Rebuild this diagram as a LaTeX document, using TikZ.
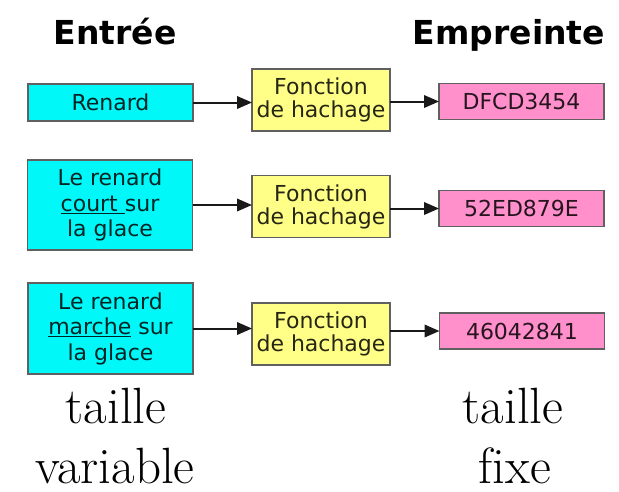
\documentclass[tikz,border=0pt]{standalone}
\usepackage{fontspec}
\usetikzlibrary{arrows.meta}
\newfontfamily\boxfont{DejaVu Sans}
\definecolor{incol}{HTML}{00F8F8}
\definecolor{hashcol}{HTML}{FFFF88}
\definecolor{digcol}{HTML}{FF90CC}
\definecolor{edgecol}{HTML}{606060}
\tikzset{
  every node/.style={inner sep=0pt, outer sep=0pt},
  basebox/.style={draw=edgecol, line width=1.4pt, align=center, text opacity=0.85,
    font=\boxfont\fontsize{22}{25.5}\selectfont},
  inbox/.style={basebox, fill=incol, minimum width=165pt},
  hashbox/.style={basebox, fill=hashcol, minimum width=138pt, minimum height=62pt,
    font=\boxfont\fontsize{22}{23}\selectfont},
  digbox/.style={basebox, fill=digcol, minimum width=165pt, minimum height=36pt},
  link/.style={draw=black!90, line width=2pt, -{Triangle[length=15pt,width=12.5pt]}},
  heading/.style={anchor=base, font=\boxfont\bfseries\fontsize{33}{36}\selectfont},
  caption/.style={anchor=base, font=\fontsize{51}{56}\selectfont}
}
\begin{document}
\begin{tikzpicture}[x=1pt, y=-1pt]
  \useasboundingbox (0,0) rectangle (619,491);

  % column headings
  \node[heading] (hin)  at (115,44) {Entrée};
  \node[heading] (hout) at (509,44) {Empreinte};

  % first row
  \node[inbox, minimum height=37pt] (in1) at (110.5,102.5) {Renard};
  \node[hashbox] (h1) at (321,100) {Fonction\\de hachage};
  \node[digbox]  (d1) at (521.5,101.5) {DFCD3454};

  % second row
  \node[inbox, minimum height=90pt] (in2) at (110,205) {Le renard\\\underline{court~}sur\\la glace};
  \node[hashbox] (h2) at (321,206.5) {Fonction\\de hachage};
  \node[digbox]  (d2) at (521.5,208.5) {52ED879E};

  % third row
  \node[inbox, minimum height=91pt] (in3) at (110.5,328.5) {Le renard\\\underline{marche} sur\\la glace};
  \node[hashbox] (h3) at (321,334) {Fonction\\de hachage};
  \node[digbox]  (d3) at (522,331) {46042841};

  % arrows
  \foreach \i in {1,2,3} {
    \draw[link] (in\i.east) -- (in\i.east -| h\i.west);
    \draw[link] (h\i.east |- d\i.west) -- (d\i.west);
  }

  % size notes under the columns
  \node[caption] (tl) at (116,423) {taille};
  \node[caption] (vl) at (115,483) {variable};
  \node[caption] (tr) at (513,423) {taille};
  \node[caption] (fr) at (515,483) {f\kern0pt ixe};
\end{tikzpicture}
\end{document}
